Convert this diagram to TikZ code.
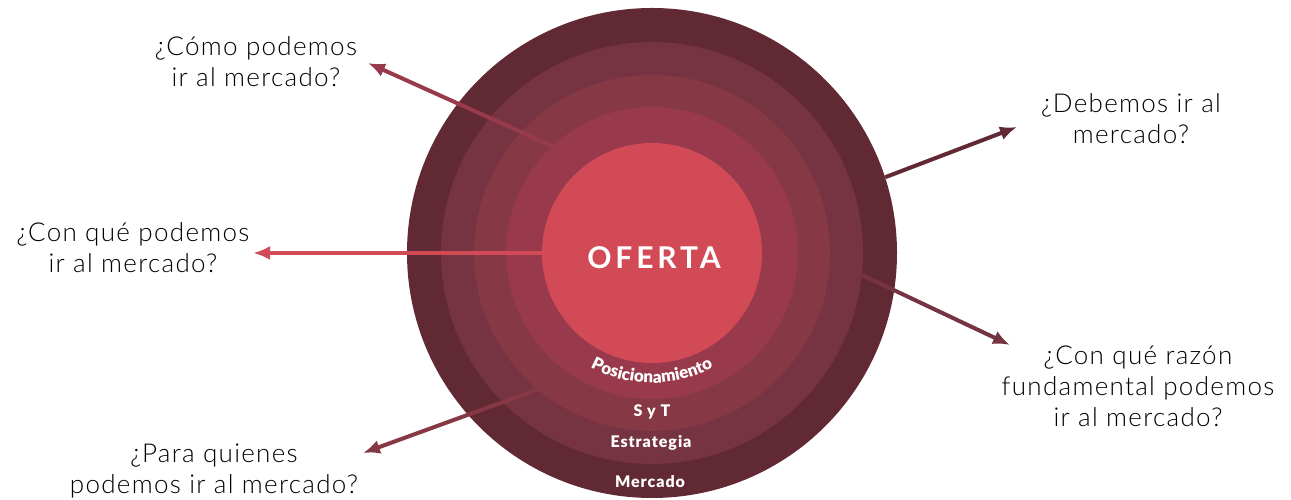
\documentclass[tikz,border=0pt]{standalone}
\usepackage{fontspec}
\setmainfont{Lato}
\newfontfamily\qfont{Lato Light}[LetterSpace=5]
\newfontfamily\lfont{Lato Black}[LetterSpace=6]
\usetikzlibrary{arrows.meta}
\usetikzlibrary{decorations.text}

\definecolor{mercado}{HTML}{612934}
\definecolor{estrategia}{HTML}{763442}
\definecolor{syt}{HTML}{873845}
\definecolor{posic}{HTML}{983A4C}
\definecolor{oferta}{HTML}{D24A56}

\tikzset{
  ring/.style={circle, inner sep=0pt, draw=none},
  arrow/.style={line width=4pt, -{Latex[length=17pt,width=14pt]}},
  question/.style={align=center, text=black, font=\qfont\fontsize{26}{31}\selectfont},
  ringlabel/.style={text=white, font=\lfont\fontsize{16}{16}\selectfont}
}

\begin{document}
\begin{tikzpicture}[x=1pt,y=1pt]
\useasboundingbox (0,0) rectangle (1291,500);
\coordinate (c) at (652,247);
% rings, outside in
\node [ring, minimum size=490pt, fill=mercado] (mer) at (c) {};
\node [ring, minimum size=422pt, fill=estrategia] (est) at (c) {};
\node [ring, minimum size=356pt, fill=syt] (syt) at (c) {};
\node [ring, minimum size=292pt, fill=posic] (pos) at (c) {};
\node [ring, minimum size=220pt, fill=oferta] (ofe) at (c) {};
\node [text=white, font=\bfseries\fontsize{30}{30}\selectfont\addfontfeature{LetterSpace=13}] (oft) at (654,242) {OFERTA};
% ring labels
\path [decorate, decoration={text along path, text align=center,
  text={|\lfont\fontsize{17}{17}\selectfont\color{white}|Posicionamiento}}]
  ([shift={(c)}]220:130) arc[start angle=220, end angle=320, radius=130];
\node [ringlabel] (lsyt) at (652,88) {S y T};
\node [ringlabel] (lest) at (651,57) {Estrategia};
\node [ringlabel] (lmer) at (650,18) {Mercado};
% questions
\node [question] (como) at (256,438) {¿Cómo podemos\\ir al mercado?};
\node [question] (conque) at (133,252) {¿Con qué podemos\\ir al mercado?};
\node [question] (para) at (214,29) {¿Para quienes\\podemos ir al mercado?};
\node [question] (debemos) at (1131,381) {¿Debemos ir al\\mercado?};
\node [question] (razon) at (1138,114) {¿Con qué razón\\fundamental podemos\\ir al mercado?};
% arrow tips
\coordinate (tcomo) at (368,437);
\coordinate (tconque) at (253,247);
\coordinate (tpara) at (363,47);
\coordinate (tdebemos) at (1017,373);
\coordinate (trazon) at (1010,155);
\draw [arrow, posic] (pos.133) -- (tcomo);
\draw [arrow, oferta] (ofe.180) -- (tconque);
\draw [arrow, syt] (syt.230) -- (tpara);
\draw [arrow, mercado] (mer.18) -- (tdebemos);
\draw [arrow, estrategia] (est.-6) -- (trazon);
\end{tikzpicture}
\end{document}
